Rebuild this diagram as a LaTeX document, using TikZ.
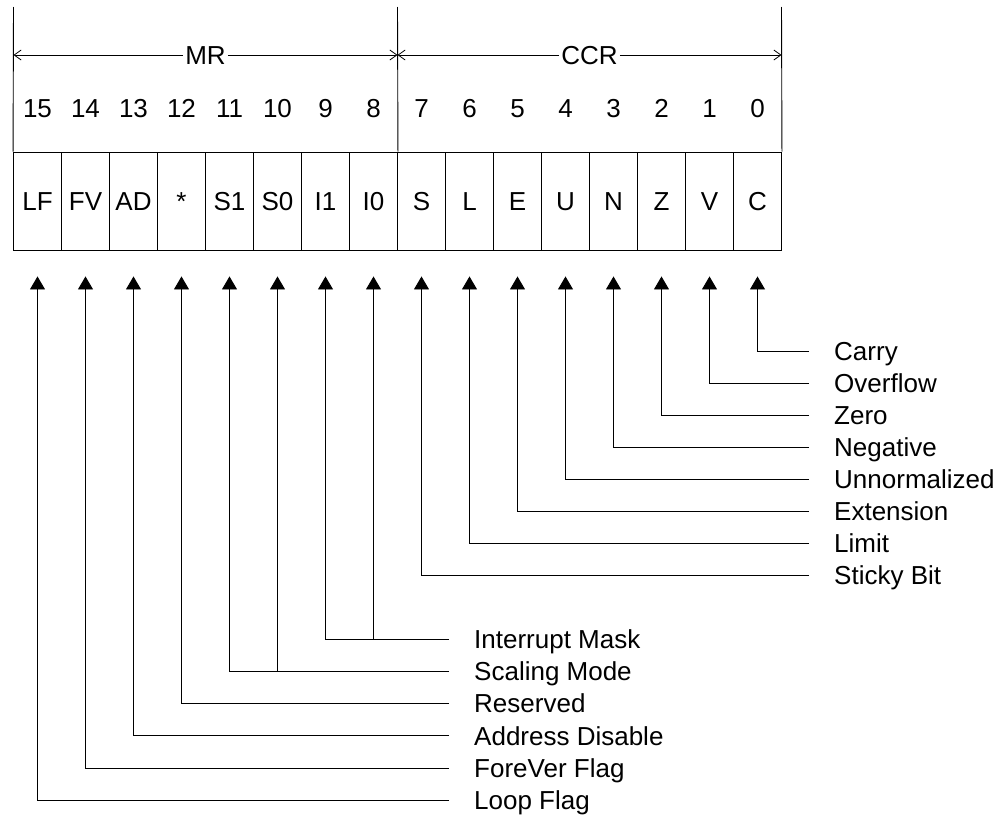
\documentclass[tikz,border=0pt]{standalone}
\usepackage{fontspec}
\setmainfont{Liberation Sans}
\usetikzlibrary{arrows.meta,calc}

\newcommand\regfont{\fontsize{26}{30}\selectfont}

\tikzset{
  cellbox/.style={draw, line width=0.9pt, minimum width=48pt, minimum height=98pt,
    inner sep=0pt, font=\regfont, text height=18.6pt, text depth=0pt},
  bitnum/.style={inner sep=0pt, font=\regfont, text height=18.6pt, text depth=0pt},
  regname/.style={inner xsep=2pt, inner ysep=0pt, font=\regfont, text height=18.6pt, text depth=0pt},
  flaglabel/.style={anchor=west, inner sep=0pt, font=\regfont, text height=18.6pt, text depth=0pt},
  flagarrow/.style={line width=0.9pt, -{Triangle[length=13pt,width=15pt]}},
  dimline/.style={line width=0.8pt, -{Straight Barb[length=7pt,width=10pt]}},
  frame/.style={line width=0.9pt}
}

\begin{document}
\begin{tikzpicture}[x=1pt, y=-1pt]
\useasboundingbox (0,0) rectangle (1004,819);

% register cells, bit numbers and arrow tips
\foreach \lbl [count=\k from 0] in {LF,FV,AD,*,S1,S0,I1,I0,S,L,E,U,N,Z,V,C} {
  \pgfmathtruncatemacro\bit{15-\k}
  \node[cellbox] (c\bit) at (37.5+48*\k,201) {\lbl};
  \node[bitnum] (n\bit) at (37.5+48*\k,108) {\bit};
  \coordinate (t\bit) at ($(c\bit.south)+(0,26)$);
}

% frame above the cells
\coordinate (fL) at (13.5,7);
\coordinate (fM) at (397.5,7);
\coordinate (fR) at (781.5,7);
\draw[frame] (fL) -- (c15.north west);
\draw[frame] (fM) -- (c8.north east);
\draw[frame] (fR) -- (c0.north east);

% register names
\node[regname] (mr) at (205.5,55) {MR};
\node[regname] (ccr) at (589.5,55) {CCR};
\draw[dimline] (mr) -- (fL |- mr);
\draw[dimline] (mr) -- (fM |- mr);
\draw[dimline] (ccr) -- (fM |- ccr);
\draw[dimline] (ccr) -- (fR |- ccr);

% CCR flags
\foreach \bit/\txt [count=\i from 0] in {0/Carry,1/Overflow,2/Zero,3/Negative,
    4/Unnormalized,5/Extension,6/Limit,7/Sticky Bit} {
  \node[flaglabel] (l\bit) at (834,351+32*\i) {\txt};
  \draw[flagarrow, shorten <=25pt] (l\bit.west) -| (t\bit);
}

% MR flags
\node[flaglabel] (lim) at (474,639) {Interrupt Mask};
\draw[flagarrow, shorten <=25pt] (lim.west) -| (t9);
\draw[flagarrow] (t8 |- lim.west) -- (t8);
\node[flaglabel] (lsm) at (474,671.3) {Scaling Mode};
\draw[flagarrow, shorten <=25pt] (lsm.west) -| (t11);
\draw[flagarrow] (t10 |- lsm.west) -- (t10);
\foreach \bit/\txt [count=\i from 0] in {12/Reserved,13/Address Disable,
    14/ForeVer Flag,15/Loop Flag} {
  \node[flaglabel] (l\bit) at (474,703.6+32.3*\i) {\txt};
  \draw[flagarrow, shorten <=25pt] (l\bit.west) -| (t\bit);
}
\end{tikzpicture}
\end{document}
